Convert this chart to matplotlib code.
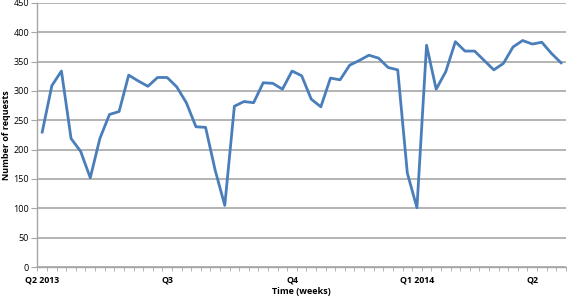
import matplotlib
matplotlib.use("Agg")
import matplotlib.pyplot as plt
import numpy as np

requests = [230, 309, 334, 219, 197, 152, 219, 260, 265, 327,
            317, 308, 323, 323, 307, 280, 239, 238, 165, 105,
            274, 282, 280, 314, 313, 303, 334, 326, 286, 273,
            322, 319, 344, 352, 361, 356, 340, 336, 160, 101,
            378, 303, 333, 384, 368, 368, 352, 336, 347, 375,
            386, 380, 383, 364, 348]
quarter_labels = ["Q2 2013", "Q3", "Q4", "Q1 2014", "Q2"]
quarter_weeks = [0, 13, 26, 39, 51]
y_ticks = [0, 50, 100, 150, 200, 250, 300, 350, 400, 450]

plt.rcParams['font.family'] = ['Open Sans', 'DejaVu Sans']

fig = plt.figure(figsize=(5.67, 2.97), dpi=100)
ax = fig.add_axes([0.066, 0.101, 0.932, 0.889])

weeks = np.arange(len(requests))
ax.plot(weeks, requests, color="#4a7ebb", lw=2.0, solid_joinstyle="round", zorder=3)

ax.set_xlim(-0.5, len(requests) - 0.5)
ax.set_ylim(0, 450)
ax.set_yticks(y_ticks)
ax.set_yticklabels([str(v) for v in y_ticks], fontsize=6.5)
ax.yaxis.grid(True, color="#9f9f9f", lw=1.1)
ax.set_axisbelow(True)

ax.set_xticks(quarter_weeks)
ax.set_xticklabels(quarter_labels, fontsize=6.3, fontweight="bold")
ax.set_xticks(np.arange(-0.5, len(requests), 1.0), minor=True)
ax.tick_params(axis="x", which="major", length=0, pad=6)
ax.tick_params(axis="x", which="minor", length=3, color="#a6a6a6", direction="out")
ax.tick_params(axis="y", length=4, color="#a6a6a6", pad=2)

for s in ["top", "right"]:
    ax.spines[s].set_visible(False)
for s in ["left", "bottom"]:
    ax.spines[s].set_color("#a6a6a6")
    ax.spines[s].set_linewidth(1.0)

ax.set_xlabel("Time (weeks)", fontsize=6.5, fontweight="bold", labelpad=2)
ax.set_ylabel("Number of requests", fontsize=6.5, fontweight="bold", labelpad=2)

fig.savefig("out.png", dpi=100)
